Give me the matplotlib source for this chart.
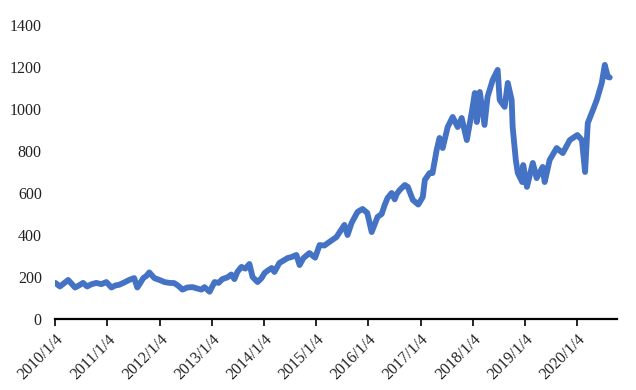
import numpy as np
import pandas as pd
import matplotlib
matplotlib.use("Agg")
import matplotlib.pyplot as plt
import matplotlib.dates as mdates

# values
dates = [
    "2010-01-04", "2010-02-05", "2010-03-01", "2010-04-04", "2010-04-25", "2010-05-22",
    "2010-06-19", "2010-07-17", "2010-08-15", "2010-09-12", "2010-10-17", "2010-11-22",
    "2010-12-27", "2011-02-01", "2011-03-01", "2011-03-27", "2011-05-01", "2011-06-05",
    "2011-07-10", "2011-08-01", "2011-08-22", "2011-09-12", "2011-10-03", "2011-10-24",
    "2011-11-28", "2012-01-03", "2012-02-07", "2012-03-12", "2012-04-16", "2012-05-14",
    "2012-06-12", "2012-07-16", "2012-08-21", "2012-09-25", "2012-10-23", "2012-11-13",
    "2012-12-19", "2013-01-23", "2013-02-20", "2013-03-18", "2013-04-22", "2013-05-20",
    "2013-06-11", "2013-07-02", "2013-07-30", "2013-08-27", "2013-09-24", "2013-10-16",
    "2013-11-20", "2013-12-18", "2014-01-08", "2014-01-29", "2014-02-27", "2014-03-18",
    "2014-04-22", "2014-05-20", "2014-06-17", "2014-07-15", "2014-08-19", "2014-09-10",
    "2014-10-07", "2014-11-18", "2014-12-28", "2015-01-28", "2015-03-03", "2015-04-07",
    "2015-05-26", "2015-06-24", "2015-07-21", "2015-08-12", "2015-09-09", "2015-10-21",
    "2015-11-25", "2015-12-28", "2016-01-28", "2016-03-09", "2016-04-07", "2016-04-28",
    "2016-05-18", "2016-06-16", "2016-07-07", "2016-07-21", "2016-08-11", "2016-09-16",
    "2016-10-07", "2016-11-11", "2016-12-19", "2017-01-20", "2017-02-03", "2017-03-08",
    "2017-03-29", "2017-04-27", "2017-05-17", "2017-06-08", "2017-07-13", "2017-08-17",
    "2017-09-21", "2017-10-19", "2017-11-24", "2017-12-29", "2018-01-19", "2018-02-02",
    "2018-02-23", "2018-03-28", "2018-04-18", "2018-05-24", "2018-06-28", "2018-07-12",
    "2018-08-16", "2018-09-07", "2018-10-04", "2018-10-11", "2018-11-02", "2018-11-16",
    "2018-12-17", "2018-12-24", "2019-01-19", "2019-03-01", "2019-03-28", "2019-05-09",
    "2019-05-23", "2019-06-27", "2019-08-15", "2019-09-27", "2019-11-15", "2020-01-07",
    "2020-02-08", "2020-03-01", "2020-03-20", "2020-04-25", "2020-05-22", "2020-06-26",
    "2020-07-17", "2020-08-08", "2020-08-21",
]
values = [
    172, 155, 168, 186, 170, 150,
    160, 172, 155, 165, 172, 166,
    176, 150, 160, 163, 174, 186,
    195, 150, 172, 195, 205, 222,
    195, 186, 176, 172, 171, 158,
    140, 150, 152, 145, 140, 152,
    130, 176, 172, 190, 198, 212,
    190, 225, 248, 240, 262, 200,
    176, 195, 219, 230, 243, 224,
    267, 278, 290, 295, 305, 257,
    290, 314, 292, 352, 350, 367,
    390, 420, 448, 400, 457, 510,
    524, 505, 414, 486, 500, 543,
    576, 600, 570, 595, 614, 638,
    629, 567, 545, 581, 662, 695,
    695, 805, 862, 814, 914, 962,
    914, 957, 852, 986, 1076, 938,
    1081, 924, 1057, 1138, 1186, 1043,
    1010, 1124, 1043, 914, 757, 695,
    652, 733, 629, 743, 671, 724,
    652, 757, 814, 790, 852, 876,
    852, 700, 933, 995, 1043, 1124,
    1210, 1152, 1150,
]
tick_dates = ["2010-01-04", "2011-01-04", "2012-01-04", "2013-01-04", "2014-01-04",
              "2015-01-04", "2016-01-04", "2017-01-04", "2018-01-04", "2019-01-04",
              "2020-01-04"]
tick_labels = ["2010/1/4", "2011/1/4", "2012/1/4", "2013/1/4", "2014/1/4", "2015/1/4",
               "2016/1/4", "2017/1/4", "2018/1/4", "2019/1/4", "2020/1/4"]
y_ticks = [0, 200, 400, 600, 800, 1000, 1200, 1400]

plt.rcParams['font.family'] = ['Liberation Serif', 'DejaVu Serif']

fig = plt.figure(figsize=(6.36, 3.9), dpi=100)
ax = fig.add_axes([0.087, 0.182, 0.883, 0.754])

ax.plot(pd.to_datetime(dates), values, color="#4472C4", linewidth=4.2,
        solid_joinstyle="round", solid_capstyle="round")

ax.set_xlim(pd.Timestamp("2010-01-04"), pd.Timestamp("2020-10-10"))
ax.set_ylim(0, 1400)
ax.set_yticks(y_ticks)
ax.set_yticklabels([str(v) for v in y_ticks], fontsize=11.5, color="#222222")
ax.set_xticks(pd.to_datetime(tick_dates))
ax.set_xticklabels(tick_labels, rotation=45, ha="right", rotation_mode="anchor",
                   fontsize=11.5, color="#222222")

for s in ["top", "right", "left"]:
    ax.spines[s].set_visible(False)
ax.spines["bottom"].set_linewidth(1.6)
ax.spines["bottom"].set_color("black")
ax.tick_params(axis="y", length=0, pad=9.7)
ax.tick_params(axis="x", length=5, width=1.2, direction="out", pad=4)

fig.savefig("out.png", dpi=100)
